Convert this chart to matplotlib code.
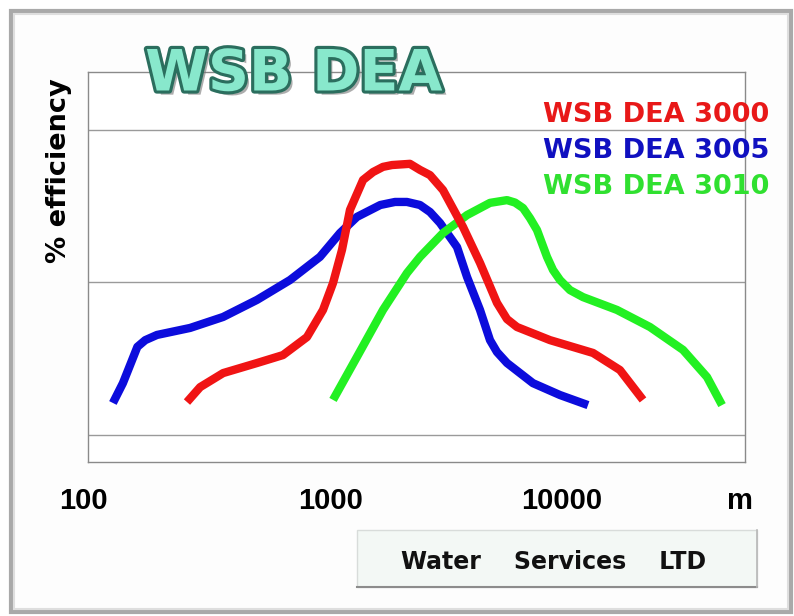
import numpy as np
import matplotlib
matplotlib.use("Agg")
import matplotlib.pyplot as plt
import matplotlib.patheffects as pe
from matplotlib.patches import Rectangle

# ---- data (distance in m, efficiency %) ----
blue_x = [104, 115, 133, 144, 162, 226, 315, 443, 617, 834, 1020, 1210, 1530, 1774, 2000,
          2280, 2522, 2790, 3310, 3660, 4170, 4610, 4946, 5470, 7100, 9320, 12350]
blue_y = [10.5, 17.0, 28.9, 31.1, 32.8, 35.1, 38.7, 44.3, 50.8, 58.4, 66.2, 71.5, 75.4, 76.4, 76.4,
          75.4, 73.1, 69.5, 61.6, 51.8, 41.0, 31.1, 27.2, 23.6, 17.0, 13.1, 9.8]

red_x = [219, 250, 315, 443, 575, 732, 860, 951, 1041, 1128, 1286, 1422, 1572, 1721, 2061,
         2281, 2522, 2874, 3515, 4171, 4946, 5470, 6048, 8430, 12990, 17030, 21470]
red_y = [10.8, 15.7, 20.3, 23.6, 26.2, 32.1, 41.0, 49.8, 60.7, 73.8, 83.6, 86.2, 87.9, 88.5, 88.9,
         86.9, 85.2, 80.3, 68.2, 56.4, 43.3, 38.0, 35.4, 31.1, 26.9, 21.3, 11.5]

green_x = [951, 1210, 1572, 2001, 2281, 2874, 3659, 4610, 5470, 5929, 6427, 6891, 7396, 8177,
           8686, 9320, 10306, 11750, 16530, 23030, 32110, 40870, 47530]
green_y = [11.5, 25.6, 41.0, 53.1, 58.4, 66.2, 72.1, 76.1, 77.0, 76.2, 74.4, 71.1, 67.2, 58.4,
           54.1, 50.8, 47.5, 45.2, 41.0, 35.4, 27.9, 19.0, 9.8]

series_names = ["WSB DEA 3000", "WSB DEA 3005", "WSB DEA 3010"]
x_tick_labels = ["100", "1000", "10000", "m"]
grid_levels = [0, 50, 100]

W, H = 794, 616
fig = plt.figure(figsize=(W / 100, H / 100), dpi=100)
fig.patch.set_facecolor("white")

def fx(px):
    return px / W

def fy(py):
    return 1 - py / H

# outer frame
fig.patches.append(Rectangle((fx(11), fy(612)), fx(780), 601 / H,
                             transform=fig.transFigure, facecolor="#fdfdfd",
                             edgecolor="#a9a9a9", linewidth=3.0, zorder=-5))
fig.patches.append(Rectangle((fx(14), fy(609)), fx(774), 595 / H,
                             transform=fig.transFigure, facecolor="none",
                             edgecolor="#dedede", linewidth=1.5, zorder=-4))

ax = fig.add_axes([fx(88), fy(462), (745 - 88) / W, (462 - 72) / H])
ax.set_zorder(1)
ax.set_facecolor("white")
ax.set_xscale("log")
ax.set_xlim(80.96, 59880)
ax.set_ylim(-8.85, 119.0)
for lv in grid_levels:
    ax.axhline(lv, color="#9a9a9a", linewidth=1.0, zorder=1)
for s in ax.spines.values():
    s.set_color("#8a8a8a")
    s.set_linewidth(1.0)
ax.set_xticks([])
ax.set_yticks([])
ax.minorticks_off()
ax.tick_params(which="both", length=0, labelbottom=False, labelleft=False)

lw = 6.0
ax.plot(blue_x, blue_y, color="#0c0cdc", linewidth=lw, solid_capstyle="butt",
        solid_joinstyle="round", zorder=3)
ax.plot(green_x, green_y, color="#22f022", linewidth=lw, solid_capstyle="butt",
        solid_joinstyle="round", zorder=4)
ax.plot(red_x, red_y, color="#f01414", linewidth=lw, solid_capstyle="butt",
        solid_joinstyle="round", zorder=5)

# legend-like colored labels
leg_colors = ["#e81818", "#1010c0", "#30e030"]
leg_y = [115, 151, 187]
for name, c, yy in zip(series_names, leg_colors, leg_y):
    fig.text(fx(769), fy(yy), name, color=c, fontsize=19.5, fontweight="bold",
             family="DejaVu Sans", ha="right", va="center", zorder=10)

# title
fig.text(fx(294), fy(75), "WSB DEA", fontsize=41, fontweight="bold",
         family="DejaVu Sans", color="#88e8cc", ha="center", va="center", zorder=10,
         path_effects=[pe.withSimplePatchShadow(offset=(3, -3), shadow_rgbFace="#777777", alpha=0.6),
                       pe.Stroke(linewidth=4.5, foreground="#2b6e5e"),
                       pe.Normal()])

# y label
fig.text(fx(58.5), fy(171), "% efficiency", rotation=90, fontsize=19.5,
         fontweight="bold", family="DejaVu Sans", color="black",
         ha="center", va="center", zorder=10)

# x tick labels
tick_px = [83, 331, 562, 740]
for lab, px in zip(x_tick_labels, tick_px):
    fig.text(fx(px), fy(501), lab, fontsize=21, fontweight="bold",
             family="Liberation Sans", color="black", ha="center", va="center", zorder=10)

# company box
fig.patches.append(Rectangle((fx(357), fy(587)), (757 - 357) / W, (587 - 530) / H,
                             transform=fig.transFigure, facecolor="#f3f8f5",
                             edgecolor="#d8dcda", linewidth=1.0, zorder=2))
fig.lines.append(plt.Line2D([fx(357), fx(757)], [fy(587), fy(587)],
                            transform=fig.transFigure, color="#8c8c8c", linewidth=1.5, zorder=3))
fig.lines.append(plt.Line2D([fx(757), fx(757)], [fy(587), fy(530)],
                            transform=fig.transFigure, color="#b8b8b8", linewidth=1.2, zorder=3))
fig.text(fx(554), fy(562), "Water    Services    LTD", fontsize=17, fontweight="bold",
         family="DejaVu Sans", color="#111111", ha="center", va="center", zorder=4)

fig.savefig("out.png", dpi=100)
